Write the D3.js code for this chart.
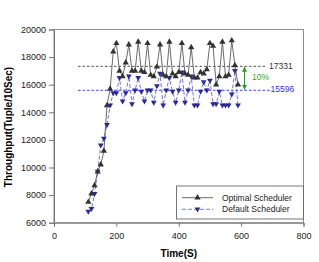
<!DOCTYPE html>
<html>
<head>
<meta charset="utf-8">
<script src="https://cdn.jsdelivr.net/npm/d3@7"></script>
<style>
  body { margin: 0; background: #fff; }
  svg { display: block; font-family: "Liberation Sans", Arial, sans-serif; }
</style>
</head>
<body>
<svg width="319" height="262"></svg>
<script>
// time (s) for each sample
var timeS = [110, 120, 130, 140, 150, 160, 170, 180, 190, 200,
             210, 220, 230, 240, 250, 260, 270, 280, 290, 300,
             310, 320, 330, 340, 350, 360, 370, 380, 390, 400,
             410, 420, 430, 440, 450, 460, 470, 480, 490, 500,
             510, 520, 530, 540, 550, 560, 570, 580, 590];

var optimal = [7500, 8100, 8700, 9700, 10200, 11200, 14500, 15700, 18400, 19000,
               17000, 16600, 17600, 18900, 17000, 17000, 19100, 17000, 16900, 19000,
               16700, 16600, 17300, 18900, 16700, 16600, 19100, 16800, 16600, 16900,
               19000, 16800, 16700, 18700, 16500, 16500, 16900, 16800, 17100, 19000,
               18800, 16000, 16600, 19100, 16600, 16700, 19200, 17400, 16000];

var deflt = [6800, 7000, 8100, 9700, 11600, 12100, 13100, 14500, 15400, 15400,
             16500, 14800, 15400, 16600, 14600, 15600, 16500, 15500, 14800, 15600,
             15600, 14700, 15900, 16800, 14500, 15600, 16500, 15500, 14700, 15600,
             16900, 14700, 15600, 16600, 14500, 14500, 15500, 16200, 15600, 16300,
             14600, 14600, 15500, 14500, 14500, 14500, 15300, 17000, 14500];

var xTicks = [0, 200, 400, 600, 800];
var yTicks = [6000, 8000, 10000, 12000, 14000, 16000, 18000, 20000];

var avgOptimal = 17331;
var avgDefault = 15596;

var svg = d3.select("svg");

var x = d3.scaleLinear().domain([0, 800]).range([54, 303.5]);
var y = d3.scaleLinear().domain([6000, 20000]).range([222.7, 29.5]);

// frame
svg.append("rect")
    .attr("x", x(0)).attr("y", y(20000))
    .attr("width", x(800) - x(0)).attr("height", y(6000) - y(20000))
    .attr("fill", "none").attr("stroke", "#8c8c8c").attr("stroke-width", 1);

// axes
var yAxis = svg.append("g")
    .attr("transform", "translate(" + x(0) + ",0)")
    .call(d3.axisLeft(y).tickValues(yTicks).tickSize(5).tickPadding(3).tickFormat(d3.format("d")));
var xAxis = svg.append("g")
    .attr("transform", "translate(0," + y(6000) + ")")
    .call(d3.axisBottom(x).tickValues(xTicks).tickSize(4).tickPadding(6).tickFormat(d3.format("d")));

[yAxis, xAxis].forEach(function(a) {
    a.selectAll("path,line").attr("stroke", "#777");
    a.selectAll("text").attr("fill", "#222").style("font-size", "9px");
});

// axis titles
svg.append("text")
    .attr("x", (x(0) + x(800)) / 2).attr("y", 257)
    .attr("text-anchor", "middle")
    .style("font-size", "10px").style("font-weight", "bold")
    .text("Time(S)");

svg.append("text")
    .attr("transform", "translate(11.5,127) rotate(-90)")
    .attr("text-anchor", "middle")
    .style("font-size", "10px").style("font-weight", "bold")
    .text("Throughput(Tuple/10Sec)");

// average lines
svg.append("line")
    .attr("x1", 78).attr("x2", 267)
    .attr("y1", y(avgOptimal)).attr("y2", y(avgOptimal))
    .attr("stroke", "#555").attr("stroke-dasharray", "2.5,2").attr("stroke-width", 1);
svg.append("text")
    .attr("x", 269).attr("y", y(avgOptimal) + 3)
    .attr("fill", "#333").style("font-size", "8.5px")
    .text(avgOptimal);

svg.append("line")
    .attr("x1", 78).attr("x2", 270)
    .attr("y1", y(avgDefault)).attr("y2", y(avgDefault))
    .attr("stroke", "#3a3aff").attr("stroke-dasharray", "2.5,2").attr("stroke-width", 1);
svg.append("text")
    .attr("x", 270.5).attr("y", y(avgDefault) + 2)
    .attr("fill", "#2f2fff").style("font-size", "8.5px")
    .text(avgDefault);

// 10% arrow
var defs = svg.append("defs");
defs.append("marker")
    .attr("id", "ah").attr("viewBox", "0 0 10 10")
    .attr("refX", 10).attr("refY", 5)
    .attr("markerWidth", 5).attr("markerHeight", 5)
    .attr("orient", "auto-start-reverse")
    .append("path").attr("d", "M0,0L10,5L0,10Z").attr("fill", "#1aa51a");

svg.append("line")
    .attr("x1", 244.5).attr("x2", 244.5)
    .attr("y1", y(avgOptimal) + 0.5).attr("y2", y(avgDefault) - 0.5)
    .attr("stroke", "#1aa51a").attr("stroke-width", 1)
    .attr("marker-start", "url(#ah)").attr("marker-end", "url(#ah)");
svg.append("text")
    .attr("x", 252).attr("y", 80)
    .attr("fill", "#22b022").style("font-size", "8.5px")
    .text("10%");

// series
var line = d3.line()
    .x(function(d) { return x(d[0]); })
    .y(function(d) { return y(d[1]); });

var optData = timeS.map(function(t, i) { return [t, optimal[i]]; });
var defData = timeS.map(function(t, i) { return [t, deflt[i]]; });

var triUp = d3.symbol().type(d3.symbolTriangle).size(17);
var triDown = "M-2.9,-1.8L2.9,-1.8L0,3.2Z";

svg.append("path")
    .datum(defData)
    .attr("d", line)
    .attr("fill", "none").attr("stroke", "#6464dc").attr("stroke-width", 0.9)
    .attr("stroke-dasharray", "4,2");

svg.append("path")
    .datum(optData)
    .attr("d", line)
    .attr("fill", "none").attr("stroke", "#5a5a5a").attr("stroke-width", 0.9);

svg.append("g").selectAll("path")
    .data(defData).enter().append("path")
    .attr("transform", function(d) { return "translate(" + x(d[0]) + "," + y(d[1]) + ")"; })
    .attr("d", triDown)
    .attr("fill", "#2a2a9a");

svg.append("g").selectAll("path")
    .data(optData).enter().append("path")
    .attr("transform", function(d) { return "translate(" + x(d[0]) + "," + y(d[1]) + ")"; })
    .attr("d", triUp)
    .attr("fill", "#333");

// legend
var lg = svg.append("g");
lg.append("rect")
    .attr("x", 176.5).attr("y", 186)
    .attr("width", x(800) - 176.5).attr("height", 33)
    .attr("fill", "#fff").attr("stroke", "#555").attr("stroke-width", 0.8);

var legendItems = [
    { name: "Optimal Scheduler", stroke: "#5a5a5a", dash: null, sym: triUp, fill: "#333" },
    { name: "Default Scheduler", stroke: "#6464dc", dash: "4,2", sym: triDown, fill: "#2a2a9a" }
];
legendItems.forEach(function(it, i) {
    var ly = 197.7 + i * 11.6;
    lg.append("line")
        .attr("x1", 182).attr("x2", 213).attr("y1", ly).attr("y2", ly)
        .attr("stroke", it.stroke).attr("stroke-width", 0.9)
        .attr("stroke-dasharray", it.dash);
    lg.append("path")
        .attr("transform", "translate(197.5," + ly + ")")
        .attr("d", it.sym).attr("fill", it.fill);
    lg.append("text")
        .attr("x", 222).attr("y", ly + 3)
        .attr("fill", "#222").style("font-size", "8.5px")
        .text(it.name);
});
</script>
</body>
</html>
